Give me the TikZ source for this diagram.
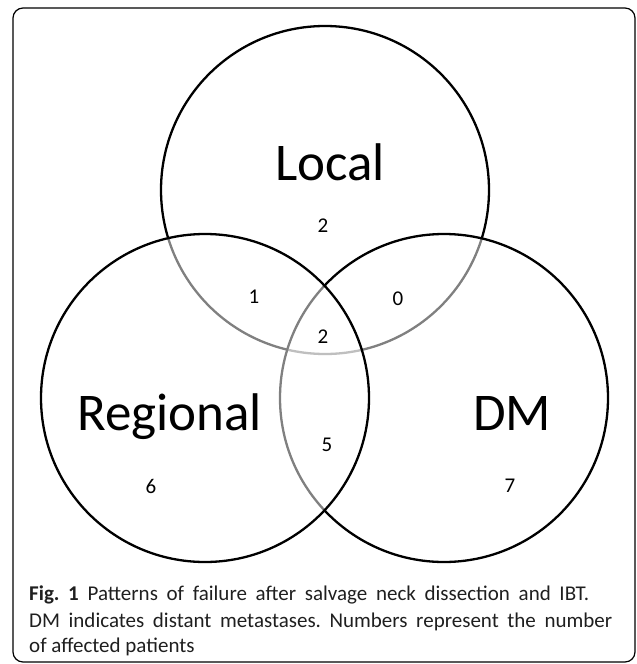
\documentclass[tikz,border=0pt]{standalone}
\usepackage{fontspec}
\setmainfont{Carlito}
\begin{document}
\frenchspacing
\begin{tikzpicture}[x=1pt,y=-1pt,
  venn/.style={circle, draw=black, line width=2.3pt, minimum size=328pt, inner sep=0pt, fill=white, fill opacity=0.5, draw opacity=1},
  big/.style={font=\fontsize{53}{60}\selectfont, inner sep=0pt, anchor=base},
  num/.style={font=\fontsize{21}{24}\selectfont, inner sep=0pt},
  capline/.style={font=\fontsize{21}{25}\selectfont\frenchspacing, inner sep=0pt, anchor=base west, text=black!88}]
\useasboundingbox (0,0) rectangle (637,664);
\draw[line width=1.2pt, rounded corners=10pt] (13,8) rectangle (635,662);
% circles: drawn in order Local, DM, Regional
\node[venn] (local) at (325,190) {};
\node[venn] (dm) at (444,398) {};
\node[venn] (regional) at (205,398) {};
% labels
\node[big] (tlocal) at (330,180) {Local};
\node[big, anchor=base west] (tregional) at (77,430) {Regional};
\node[big] (tdm) at (512,430) {DM};
\node[num] (nlocal) at (323,226) {2};
\node[num] (nlr) at (254,297) {1};
\node[num] (nld) at (398,299) {0};
\node[num] (nall) at (323,337) {2};
\node[num] (nrd) at (327,445) {5};
\node[num] (nreg) at (151,486) {6};
\node[num] (ndm) at (510,486) {7};
% caption
\node[capline] (cap1) at (29,600) {\makebox[560pt][s]{\textbf{Fig. 1} Patterns of failure after salvage neck dissection and IBT.}};
\node[capline] (cap2) at (29,627) {\makebox[583pt][s]{DM indicates distant metastases. Numbers represent the number}};
\node[capline] (cap3) at (29,652) {of affected patients};
\end{tikzpicture}
\end{document}
